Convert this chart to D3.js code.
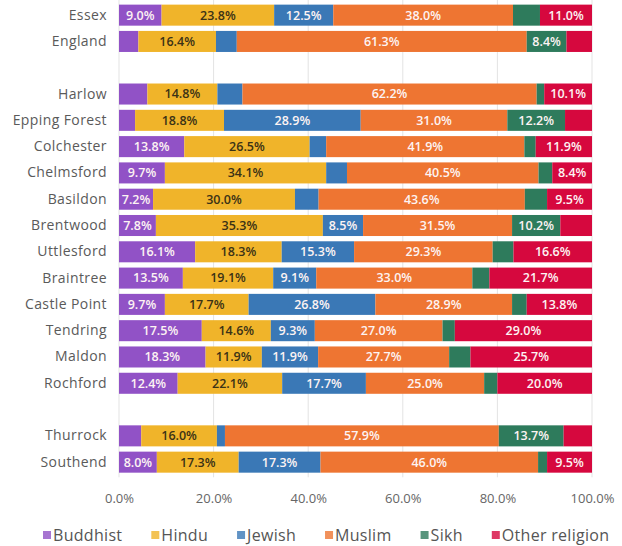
<!DOCTYPE html>
<html>
<head>
<meta charset="utf-8">
<script src="https://cdn.jsdelivr.net/npm/d3@7"></script>
<style>
    body { margin: 0; background: #fff; }
    #chart { width: 622px; height: 546px; }
    text { font-family: "Open Sans", sans-serif; }
</style>
</head>
<body>
<div id="chart"></div>
<script>
// areas, top to bottom ("" rows are the gaps)
const areas = ["Essex", "England", "", "Harlow", "Epping Forest", "Colchester", "Chelmsford", "Basildon",
    "Brentwood", "Uttlesford", "Braintree", "Castle Point", "Tendring", "Maldon", "Rochford", "", "Thurrock", "Southend"];

const religions = ["Buddhist", "Hindu", "Jewish", "Muslim", "Sikh", "Other religion"];
const colours = ["#9152c6", "#f0b42a", "#3a78b6", "#ee7532", "#2e7b5c", "#d6083e"];

// share of each religion (%), same order as areas
const buddhist = [9.0, 4.1, null, 6.0, 3.4, 13.8, 9.7, 7.2, 7.8, 16.1, 13.5, 9.7, 17.5, 18.3, 12.4, null, 4.7, 8.0];
const hindu    = [23.8, 16.4, null, 14.8, 18.8, 26.5, 34.1, 30.0, 35.3, 18.3, 19.1, 17.7, 14.6, 11.9, 22.1, null, 16.0, 17.3];
const jewish   = [12.5, 4.4, null, 5.3, 28.9, 3.5, 4.4, 5.0, 8.5, 15.3, 9.1, 26.8, 9.3, 11.9, 17.7, null, 1.7, 17.3];
const muslim   = [38.0, 61.3, null, 62.2, 31.0, 41.9, 40.5, 43.6, 31.5, 29.3, 33.0, 28.9, 27.0, 27.7, 25.0, null, 57.9, 46.0];
const sikh     = [5.7, 8.4, null, 1.6, 12.2, 2.4, 2.9, 4.7, 10.2, 4.4, 3.6, 3.1, 2.6, 4.5, 2.8, null, 13.7, 1.9];
const other    = [11.0, 5.4, null, 10.1, 5.7, 11.9, 8.4, 9.5, 6.7, 16.6, 21.7, 13.8, 29.0, 25.7, 20.0, null, 6.0, 9.5];

const xTicks = [0, 20, 40, 60, 80, 100];

let series = [buddhist, hindu, jewish, muslim, sikh, other];

// one row per area, keyed so the two gaps stay distinct
let rows = areas.map(function (a, i) {
    let r = {key: a === "" ? "gap" + i : a, name: a};
    religions.forEach(function (rel, j) { r[rel] = series[j][i] || 0; });
    return r;
});

let margin = {top: 2, right: 30, bottom: 70, left: 119};
let width = 622, height = 546;

let svg = d3.select("#chart").append("svg")
    .attr("width", width)
    .attr("height", height);

let x = d3.scaleLinear()
    .domain([0, 100])
    .range([margin.left, width - margin.right]);

let y = d3.scaleBand()
    .domain(rows.map(d => d.key))
    .range([margin.top, height - margin.bottom - 0.7])
    .paddingInner(0.2)
    .paddingOuter(0.1);

let colour = d3.scaleOrdinal().domain(religions).range(colours);

// gridlines
svg.append("g")
    .selectAll("line")
    .data(xTicks)
    .enter().append("line")
    .attr("x1", d => x(d)).attr("x2", d => x(d))
    .attr("y1", 0).attr("y2", y.range()[1] + 2)
    .attr("stroke", "#e3e3e3")
    .attr("stroke-width", 1);

let stack = d3.stack().keys(religions);
let stacked = stack(rows.filter(d => d.name !== ""));

let layer = svg.append("g").selectAll("g")
    .data(stacked)
    .enter().append("g")
    .attr("fill", d => colour(d.key));

layer.selectAll("rect")
    .data(d => d)
    .enter().append("rect")
    .attr("x", d => x(d[0]))
    .attr("y", d => y(d.data.key))
    .attr("width", d => x(d[1]) - x(d[0]))
    .attr("height", y.bandwidth());

// value labels on the bigger pieces
layer.selectAll("text")
    .data(function (d) { return d.map(p => ({p: p, key: d.key})); })
    .enter().filter(d => d.p[1] - d.p[0] >= 7)
    .append("text")
    .attr("x", d => (x(d.p[0]) + x(d.p[1])) / 2)
    .attr("y", d => y(d.p.data.key) + y.bandwidth() / 2)
    .attr("dy", "0.35em")
    .attr("text-anchor", "middle")
    .attr("font-size", "12.5px")
    .attr("font-weight", 600)
    .attr("fill", d => d.key === "Hindu" ? "#3b3216" : "#fdf3f3")
    .text(d => (d.p[1] - d.p[0]).toFixed(1) + "%");

// area names
let yAxis = svg.append("g")
    .attr("transform", `translate(${margin.left}, 0)`)
    .call(d3.axisLeft(y).tickSize(0).tickPadding(12).tickFormat(k => k.startsWith("gap") ? "" : k));
yAxis.select(".domain").remove();
yAxis.selectAll("text")
    .attr("font-size", "14px")
    .attr("letter-spacing", "0.4px")
    .attr("fill", "#5a5a5a");

// percentage axis
let xAxis = svg.append("g")
    .attr("transform", `translate(0, ${y.range()[1] + 2})`)
    .call(d3.axisBottom(x).tickValues(xTicks).tickSize(0).tickPadding(16).tickFormat(d => d.toFixed(1) + "%"));
xAxis.select(".domain").remove();
xAxis.selectAll("text")
    .attr("font-size", "13px")
    .attr("fill", "#666");

// legend
let legend = svg.append("g").attr("transform", "translate(0, 535)");
let item = legend.selectAll("g")
    .data(religions)
    .enter().append("g");
item.append("rect")
    .attr("y", -4).attr("width", 8).attr("height", 8)
    .attr("fill", d => colour(d))
    .attr("opacity", 0.8);
item.append("text")
    .attr("x", 10)
    .attr("dy", "0.35em")
    .attr("font-size", "16px")
    .attr("letter-spacing", "0.3px")
    .attr("fill", "#555")
    .text(d => d);

let pos = 43;
item.each(function () {
    let g = d3.select(this);
    g.attr("transform", `translate(${pos}, 0)`);
    pos += 10 + g.select("text").node().getComputedTextLength() + 29;
});
</script>
</body>
</html>
